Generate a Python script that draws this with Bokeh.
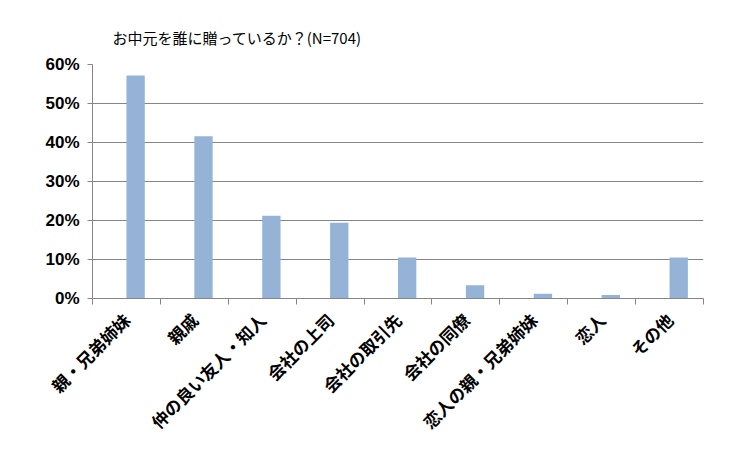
import math
from bokeh.plotting import figure
from bokeh.models import FixedTicker, NumeralTickFormatter, Range1d, ColumnDataSource
from bokeh.embed import file_html
from bokeh.resources import INLINE

categories = ["親・兄弟姉妹", "親戚", "仲の良い友人・知人", "会社の上司", "会社の取引先",
              "会社の同僚", "恋人の親・兄弟姉妹", "恋人", "その他"]
values = [0.572, 0.416, 0.212, 0.194, 0.105, 0.034, 0.012, 0.009, 0.105]
y_ticks = [0.0, 0.1, 0.2, 0.3, 0.4, 0.5, 0.6]
title_text = "お中元を誰に贈っているか？(N=704)"

n = len(categories)
centers = [i + 0.5 for i in range(n)]
bar_w = 0.27
src = ColumnDataSource(dict(x=[c + bar_w / 2 for c in centers], top=values))

p = figure(width=721, height=456, output_backend="svg", toolbar_location=None,
           x_range=Range1d(0, n), y_range=Range1d(0, 0.6),
           min_border_left=92, min_border_right=18, min_border_top=64, min_border_bottom=158)
p.outline_line_color = None

p.vbar(x="x", top="top", width=bar_w, source=src, fill_color="#95B3D7", line_color=None)

p.title.text = title_text
p.title.text_font = "Noto Sans CJK JP"
p.title.text_font_size = "15px"
p.title.text_font_style = "normal"
p.title.text_color = "black"
p.title.offset = 20
p.title.standoff = 30
p.title.vertical_align = "top"

xa = p.xaxis[0]
xa.ticker = FixedTicker(ticks=centers, minor_ticks=list(range(n + 1)))
xa.major_label_overrides = {c: lab for c, lab in zip(centers, categories)}
xa.major_label_orientation = math.pi / 4
xa.major_tick_line_color = None
xa.minor_tick_line_color = "#868686"
xa.minor_tick_out = 6
xa.minor_tick_in = 0
xa.axis_line_color = "#868686"
xa.major_label_text_font = "Noto Sans CJK JP"
xa.major_label_text_font_style = "bold"
xa.major_label_text_font_size = "17px"
xa.major_label_text_color = "black"
xa.major_label_standoff = 12

ya = p.yaxis[0]
ya.ticker = FixedTicker(ticks=y_ticks)
ya.formatter = NumeralTickFormatter(format="0%")
ya.axis_line_color = "#868686"
ya.major_tick_line_color = "#868686"
ya.major_tick_out = 5
ya.major_tick_in = 0
ya.minor_tick_line_color = None
ya.major_label_text_font = "Liberation Sans"
ya.major_label_text_font_style = "bold"
ya.major_label_text_font_size = "17px"
ya.major_label_text_color = "black"
ya.major_label_standoff = 8

p.xgrid.grid_line_color = None
p.ygrid.ticker = FixedTicker(ticks=y_ticks)
p.ygrid.grid_line_color = "#868686"
p.ygrid.grid_line_width = 1

open("out.html", "w").write(file_html(p, INLINE))
